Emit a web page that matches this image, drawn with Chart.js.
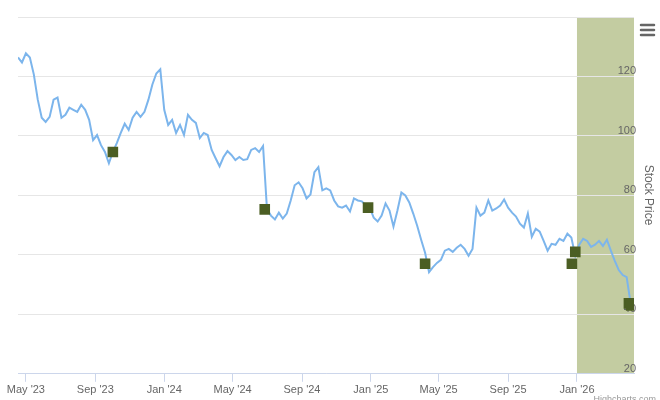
<!DOCTYPE html>
<html>
<head>
<meta charset="utf-8">
<script src="https://cdn.jsdelivr.net/npm/chart.js@4.4.1/dist/chart.umd.min.js"></script>
<style>
  html, body { margin: 0; padding: 0; background: #fff; }
  #wrap { width: 660px; height: 400px; position: relative; }
</style>
</head>
<body>
<div id="wrap"><canvas id="stockChart" width="660" height="400"></canvas></div>
<script>
// Weekly closes, first week starts 2023-04-17
const firstWeek = '2023-04-17';
const weeklyPrices = [
    126.4, 124.7, 127.8, 126.4, 120.7, 112.2, 106.1, 104.7, 106.4, 112.2,
    112.9, 106.1, 107.1, 109.5, 108.8, 108.1, 110.5, 108.8, 105.4, 98.6,
    100.3, 96.9, 94.6, 90.8, 94.6, 97.6, 101.0, 104.1, 102.0, 106.1,
    108.1, 106.4, 108.1, 112.2, 117.3, 121.0, 122.4, 108.8, 103.7, 105.4,
    101.0, 103.7, 100.3, 107.1, 105.4, 104.4, 99.3, 101.0, 100.3, 95.3,
    92.5, 89.8, 92.9, 94.9, 93.6, 91.9, 92.9, 91.9, 92.2, 95.3,
    95.9, 94.6, 96.6, 75.3, 73.2, 71.9, 74.2, 72.2, 73.9, 78.3,
    83.4, 84.4, 82.4, 79.0, 80.3, 87.8, 89.5, 81.7, 82.4, 81.7,
    78.3, 76.3, 75.9, 76.6, 74.6, 79.0, 78.3, 78.0, 76.6, 75.9,
    72.5, 71.2, 73.2, 77.3, 74.9, 69.5, 74.9, 81.0, 80.0, 77.6,
    73.9, 69.8, 65.1, 60.7, 54.2, 55.9, 57.3, 58.3, 61.4, 62.0,
    61.0, 62.4, 63.4, 62.0, 59.7, 62.0, 75.9, 73.2, 74.2, 78.3,
    74.9, 75.6, 76.6, 78.6, 75.9, 74.2, 72.9, 70.5, 69.2, 73.9,
    66.1, 68.8, 67.8, 64.7, 61.4, 63.7, 63.4, 65.4, 64.7, 67.1,
    65.8, 59.7, 63.4, 65.4, 64.7, 62.7, 63.4, 64.7, 63.0, 65.1,
    61.4, 58.0, 54.9, 53.2, 52.5, 43.7
];

// Event markers (squares)
const eventDates = ['2023-10-02', '2024-06-27', '2024-12-27', '2025-04-07', '2025-12-23', '2025-12-29', '2026-04-03', '2026-04-07'];
const eventPrices = [94.6, 75.3, 75.9, 57.0, 57.0, 61.0, 43.7, 43.0];

// Shaded period and axis ticks
const bandStart = '2026-01-01';
const xMin = '2023-04-17';
const xMax = '2026-04-12';
const tickMonths = ['2023-05-01', '2023-09-01', '2024-01-01', '2024-05-01', '2024-09-01', '2025-01-01', '2025-05-01', '2025-09-01', '2026-01-01'];
const yTicks = [20, 40, 60, 80, 100, 120, 140];

const DAY = 86400000;
const monthNames = ['Jan', 'Feb', 'Mar', 'Apr', 'May', 'Jun', 'Jul', 'Aug', 'Sep', 'Oct', 'Nov', 'Dec'];

function ts(s) {
    const p = s.split('-').map(Number);
    return Date.UTC(p[0], p[1] - 1, p[2]);
}

const startTs = ts(firstWeek);
const priceData = weeklyPrices.map((v, i) => ({ x: startTs + i * 7 * DAY, y: v }));
const eventData = eventDates.map((d, i) => ({ x: ts(d), y: eventPrices[i] }));

const fontFamily = '"Liberation Sans", Arial, sans-serif';

// band, menu icon, axis title and credits
const decorPlugin = {
    id: 'decor',
    beforeDraw(chart) {
        const { ctx, chartArea, scales } = chart;
        const x0 = scales.x.getPixelForValue(ts(bandStart));
        ctx.save();
        ctx.fillStyle = '#c3cca1';
        ctx.fillRect(x0, chartArea.top, chartArea.right - x0, chartArea.bottom - chartArea.top);
        ctx.restore();
    },
    afterDraw(chart) {
        const { ctx } = chart;
        ctx.save();
        // hamburger
        ctx.strokeStyle = '#666';
        ctx.lineWidth = 2.5;
        ctx.lineCap = 'round';
        [25, 30, 35].forEach(y => {
            ctx.beginPath();
            ctx.moveTo(641, y);
            ctx.lineTo(654, y);
            ctx.stroke();
        });
        // y title
        ctx.fillStyle = '#666';
        ctx.font = '12px ' + fontFamily;
        ctx.translate(648, 195);
        ctx.rotate(Math.PI / 2);
        ctx.textAlign = 'center';
        ctx.textBaseline = 'middle';
        ctx.fillText('Stock Price', 0, 0);
        ctx.restore();
        // credits
        ctx.save();
        ctx.fillStyle = '#999';
        ctx.font = '9px ' + fontFamily;
        ctx.textAlign = 'right';
        ctx.textBaseline = 'alphabetic';
        ctx.fillText('Highcharts.com', 656, 402);
        ctx.restore();
    }
};

new Chart(document.getElementById('stockChart').getContext('2d'), {
    type: 'line',
    data: {
        datasets: [{
            label: 'Events',
            data: eventData,
            showLine: false,
            pointStyle: 'rect',
            pointRadius: 7.5,
            pointBackgroundColor: '#4b5e23',
            pointBorderColor: '#4b5e23',
            pointBorderWidth: 0,
            order: 0
        }, {
            label: 'Price',
            data: priceData,
            borderColor: '#7cb5ec',
            borderWidth: 2,
            pointRadius: 0,
            tension: 0,
            fill: false,
            order: 1
        }]
    },
    options: {
        responsive: false,
        animation: false,
        layout: { padding: { left: 18, right: 22, top: 17, bottom: 1 } },
        plugins: {
            legend: { display: false },
            tooltip: { enabled: false }
        },
        scales: {
            x: {
                type: 'linear',
                min: ts(xMin),
                max: ts(xMax),
                afterBuildTicks(axis) {
                    axis.ticks = tickMonths.map(m => ({ value: ts(m) }));
                },
                ticks: {
                    autoSkip: false,
                    maxRotation: 0,
                    color: '#666',
                    font: { family: fontFamily, size: 11 },
                    padding: 2,
                    callback(value) {
                        const d = new Date(value);
                        return monthNames[d.getUTCMonth()] + " '" + String(d.getUTCFullYear()).slice(2);
                    }
                },
                grid: { drawOnChartArea: false, drawTicks: true, tickLength: 8, color: '#ccd6eb' },
                border: { color: '#ccd6eb' }
            },
            y: {
                position: 'right',
                min: 20,
                max: 140,
                afterBuildTicks(axis) {
                    axis.ticks = yTicks.map(v => ({ value: v }));
                },
                ticks: {
                    mirror: true,
                    padding: 2,
                    labelOffset: -5,
                    color: '#666',
                    font: { family: fontFamily, size: 11 },
                    callback(value) { return value === 140 ? '' : value; }
                },
                grid: { color: '#e6e6e6', drawTicks: false },
                border: { display: false }
            }
        }
    },
    plugins: [decorPlugin]
});
</script>
</body>
</html>
